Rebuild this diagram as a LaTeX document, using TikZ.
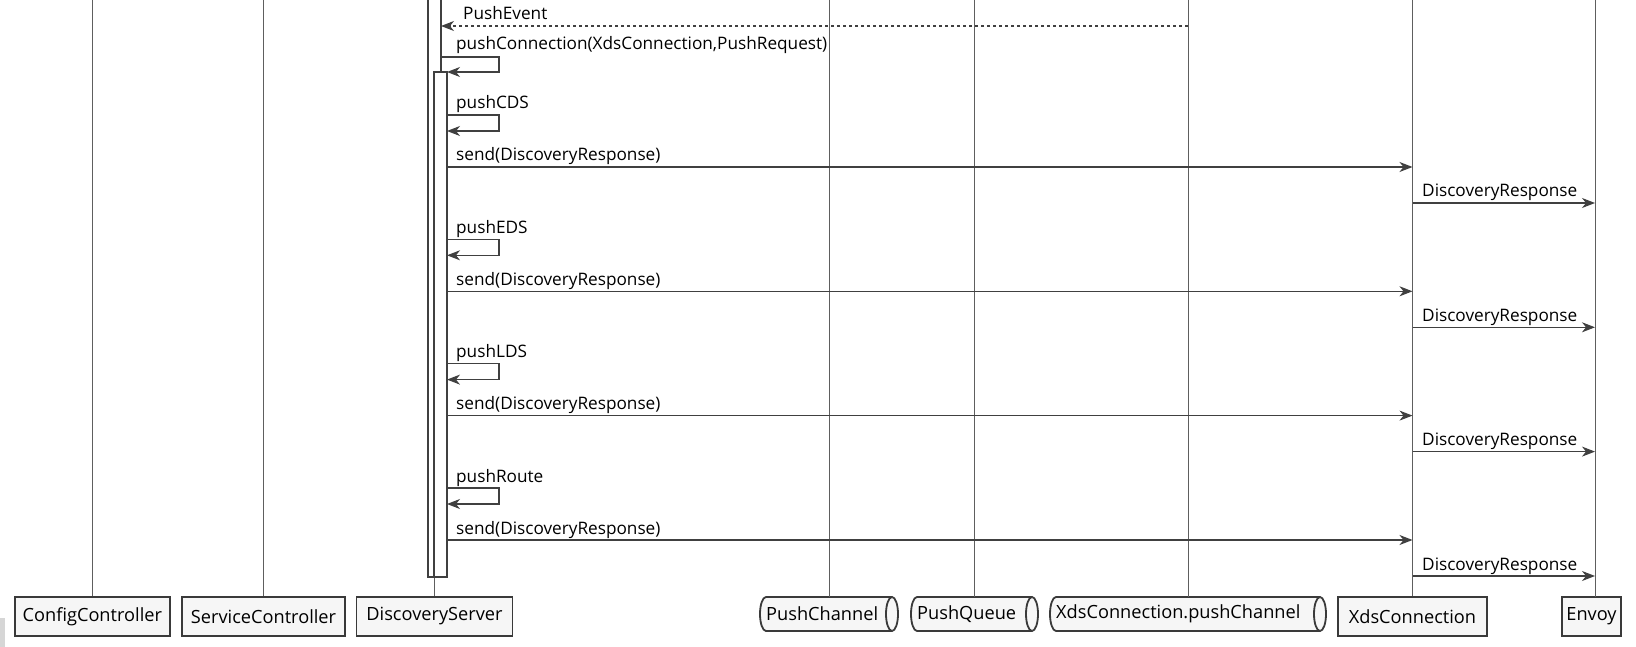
\documentclass[tikz,border=0pt]{standalone}
\usepackage{fontspec}
\setmainfont{Open Sans}
\usetikzlibrary{arrows.meta}
\definecolor{linegrey}{HTML}{5E5E5E}
\definecolor{arrgrey}{HTML}{404040}
\definecolor{boxfill}{HTML}{F6F6F6}
\definecolor{boxline}{HTML}{3A3A3A}
\definecolor{sidegrey}{HTML}{D6D6D6}
\tikzset{
  life/.style={draw=linegrey, line width=1pt},
  msg/.style={draw=arrgrey, line width=1.1pt, -{Stealth[length=13pt,width=10pt,inset=4pt]}},
  dmsg/.style={msg, dash pattern=on 3pt off 3pt},
  part/.style={draw=boxline, fill=boxfill, line width=1.8pt, minimum height=39pt, inner sep=0pt,
    font=\fontsize{18.2}{20}\selectfont, text=black},
  qtext/.style={inner sep=0pt, font=\fontsize{18.2}{20}\selectfont, text=black},
  qshape/.style={draw=boxline, fill=boxfill, line width=1.8pt},
  lbl/.style={anchor=base west, inner sep=0pt, font=\fontsize{17.2}{18}\selectfont, text=black},
  actbox/.style={draw=arrgrey, fill=white, line width=1.1pt, inner sep=0pt}
}
\newcommand\queueshape[4]{%
  \filldraw[qshape] (#1+6,#3) -- (#2-6,#3) arc[start angle=90,end angle=-90,x radius=6pt,y radius=17pt]
    -- (#1+6,#4) arc[start angle=270,end angle=90,x radius=6pt,y radius=17pt] -- cycle;
  \draw[qshape] (#2-6,#3) arc[start angle=90,end angle=270,x radius=6pt,y radius=17pt];
}
\begin{document}
\begin{tikzpicture}[x=1pt,y=-1pt]
\useasboundingbox[fill=white] (0,0) rectangle (1636,647);
\fill[sidegrey] (0,618) rectangle (4.5,647);
\coordinate (top) at (0,0);

% participants (rectangles)
\node[part, minimum width=155pt] (CC) at (92.3,616.5) {ConfigController};
\node[part, minimum width=163pt] (SC) at (263.5,616.5) {ServiceController};
\node[part, minimum width=156pt] (DS) at (434.5,616.5) {DiscoveryServer};
\node[part, minimum width=149pt] (XC) at (1412.5,616.5) {XdsConnection};
\node[part, minimum width=59pt] (EN) at (1591.5,616.5) {Envoy};
\coordinate (ENl) at (1595,597);

% queues
\queueshape{760}{898}{597}{631}
\node[qtext, anchor=west] (PC) at (766,614) {PushChannel};
\coordinate (PCtop) at (829,597);
\queueshape{911}{1038}{597}{631}
\node[qtext, anchor=west] (PQ) at (917,614) {PushQueue};
\coordinate (PQtop) at (974.5,597);
\queueshape{1050}{1326}{597}{631}
\node[qtext, anchor=west] (XP) at (1056,614) {XdsConnection.pushChannel};
\coordinate (XPtop) at (1188,597);

% lifelines
\draw[life] (CC.north) -- (CC.north |- top);
\draw[life] (SC.north) -- (SC.north |- top);
\draw[life] (DS.north) -- (DS.north |- top);
\draw[life] (PCtop) -- (PCtop |- top);
\draw[life] (PQtop) -- (PQtop |- top);
\draw[life] (XPtop) -- (XPtop |- top);
\draw[life] (XC.north) -- (XC.north |- top);
\draw[life] (ENl) -- (ENl |- top);

% activations
\path[actbox] (428,-4) rectangle (441,577);
\coordinate (A1) at (441,0);
\path[actbox] (434,72) rectangle (447,577);
\coordinate (A2) at (447,0);

% PushEvent
\coordinate (y0) at (0,26);
\draw[dmsg] (XPtop |- y0) -- (A1 |- y0);
\node[lbl] (lPE) at (463,20) {PushEvent};

% pushConnection
\coordinate (c1) at (499,57);
\coordinate (c2) at (499,72);
\draw[msg] (A1 |- c1) -- (c1) -- (c2) -- (A2 |- c2);
\node[lbl] (lPC) at (456,50) {pushConnection(XdsConnection,PushRequest)};

% four rounds
\foreach \lab/\b in {pushCDS/0,pushEDS/124.3,pushLDS/248.6,pushRoute/373}{
  \coordinate (la) at (499,115+\b);
  \coordinate (lb) at (499,131+\b);
  \coordinate (sy) at (0,167+\b);
  \coordinate (ry) at (0,203+\b);
  \draw[msg] (A2 |- la) -- (la) -- (lb) -- (A2 |- lb);
  \node[lbl] at (456,109+\b) {\lab};
  \draw[msg] (A2 |- sy) -- (XC.north |- sy);
  \node[lbl] at (456,161+\b) {send(DiscoveryResponse)};
  \draw[msg] (XC.north |- ry) -- (ENl |- ry);
  \node[lbl] at (1422,197+\b) {DiscoveryResponse};
}
\end{tikzpicture}
\end{document}
